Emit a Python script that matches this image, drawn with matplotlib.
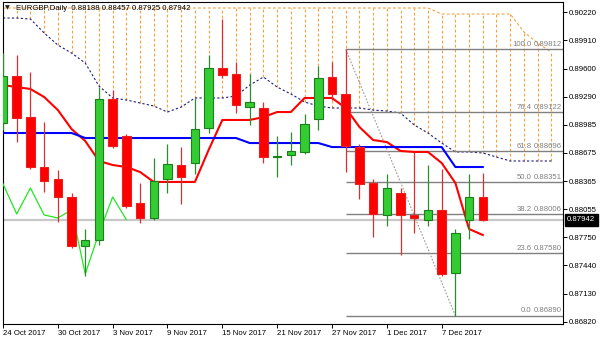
import matplotlib
matplotlib.use("Agg")
import matplotlib.pyplot as plt

plt.rcParams['font.family'] = ['Liberation Sans', 'DejaVu Sans']

# x axis labels (every 4th daily bar)
date_labels = ["24 Oct 2017", "30 Oct 2017", "3 Nov 2017", "9 Nov 2017", "15 Nov 2017",
               "21 Nov 2017", "27 Nov 2017", "1 Dec 2017", "7 Dec 2017"]
date_pos = [0, 4, 8, 12, 16, 20, 24, 28, 32]

# daily candles, EURGBP
opens = [0.89003, 0.89518, 0.89068, 0.88520, 0.88388, 0.88191, 0.87654, 0.87719, 0.89266, 0.88860,
         0.88125, 0.87961, 0.88388, 0.88542, 0.88564, 0.88948, 0.89606, 0.89540, 0.89178, 0.89167,
         0.88630, 0.88652, 0.88685, 0.89047, 0.89507, 0.89321, 0.88739, 0.88345, 0.87994, 0.88235,
         0.87994, 0.87939, 0.88049, 0.87358, 0.87939, 0.88188]
highs = [0.89770, 0.89748, 0.89562, 0.89014, 0.88487, 0.88235, 0.87840, 0.89397, 0.89365, 0.88882,
         0.88345, 0.88619, 0.88772, 0.88739, 0.89277, 0.89748, 0.90143, 0.89672, 0.89540, 0.89233,
         0.88860, 0.88904, 0.89101, 0.89628, 0.89672, 0.89812, 0.88772, 0.88388, 0.88443, 0.88290,
         0.88685, 0.88542, 0.88498, 0.87840, 0.88443, 0.88457]
lows = [0.88926, 0.88794, 0.88498, 0.88246, 0.87917, 0.87632, 0.87325, 0.87665, 0.88728, 0.88070,
        0.87906, 0.87939, 0.88235, 0.88114, 0.88443, 0.88893, 0.89496, 0.89112, 0.88981, 0.88564,
        0.88410, 0.88542, 0.88663, 0.88926, 0.89255, 0.88465, 0.88169, 0.87752, 0.87873, 0.87555,
        0.87796, 0.87873, 0.87325, 0.86890, 0.87730, 0.87925]
closes = [0.89518, 0.89057, 0.88520, 0.88367, 0.88191, 0.87654, 0.87719, 0.89266, 0.88750, 0.88092,
          0.87961, 0.88367, 0.88553, 0.88410, 0.88937, 0.89606, 0.89529, 0.89200, 0.89233, 0.88630,
          0.88641, 0.88696, 0.88992, 0.89496, 0.89321, 0.88750, 0.88334, 0.88005, 0.88290, 0.87994,
          0.87961, 0.88049, 0.87347, 0.87796, 0.88191, 0.87942]

# ichimoku lines
tenkan = [0.89419, 0.89397, 0.89376, 0.89288, 0.89145, 0.88937, 0.88805, 0.88586, 0.88542, 0.88520,
          0.88465, 0.88356, 0.88356, 0.88356, 0.88356, 0.88707, 0.89036, 0.89036, 0.89036, 0.89068,
          0.89123, 0.89123, 0.89277, 0.89277, 0.89277, 0.89167, 0.88959, 0.88816, 0.88794, 0.88696,
          0.88685, 0.88685, 0.88564, 0.88345, 0.87840, 0.87774]
kijun = [0.88893, 0.88893, 0.88893, 0.88893, 0.88893, 0.88893, 0.88838, 0.88838, 0.88838, 0.88838,
         0.88838, 0.88838, 0.88838, 0.88838, 0.88838, 0.88838, 0.88838, 0.88838, 0.88783, 0.88783,
         0.88783, 0.88783, 0.88783, 0.88783, 0.88739, 0.88739, 0.88739, 0.88739, 0.88739, 0.88739,
         0.88739, 0.88739, 0.88739, 0.88520, 0.88520, 0.88520]
span_a = [0.90154, 0.90154, 0.90143, 0.89990, 0.89858, 0.89770, 0.89661, 0.89408, 0.89277, 0.89255,
          0.89222, 0.89189, 0.89123, 0.89178, 0.89277, 0.89277, 0.89277, 0.89299, 0.89419, 0.89507,
          0.89397, 0.89321, 0.89233, 0.89189, 0.89167, 0.89167, 0.89167, 0.89145, 0.89134, 0.89112,
          0.88981, 0.88893, 0.88783, 0.88685, 0.88685, 0.88674, 0.88630, 0.88586, 0.88586, 0.88586,
          0.88586]
span_b = [0.90264, 0.90264, 0.90264, 0.90264, 0.90264, 0.90264, 0.90264, 0.90264, 0.90264, 0.90264,
          0.90264, 0.90264, 0.90264, 0.90264, 0.90264, 0.90264, 0.90264, 0.90264, 0.90264, 0.90264,
          0.90264, 0.90264, 0.90264, 0.90264, 0.90264, 0.90264, 0.90264, 0.90264, 0.90264, 0.90264,
          0.90264, 0.90264, 0.90198, 0.90198, 0.90198, 0.90198, 0.90198, 0.90198, 0.90001, 0.89880,
          0.89781]

# fibonacci retracement
fib_levels = [0.0, 23.6, 38.2, 50.0, 61.8, 76.4, 100.0]
fib_prices = [0.86890, 0.87580, 0.88006, 0.88351, 0.88696, 0.89122, 0.89812]
fib_from, fib_to = 25, 33

price_ticks = [0.90220, 0.89910, 0.89600, 0.89290, 0.88985, 0.88675, 0.88365,
               0.88055, 0.87750, 0.87440, 0.87130, 0.86820]

FS = 5.6
fig = plt.figure(figsize=(6, 3.43), dpi=100)
ax = fig.add_axes([0.005, 0.0554, 0.9333, 0.9388])
x_max = 40.85
ax.set_xlim(0, x_max)
ax.set_ylim(0.86798, 0.90330)

# cloud
cloud_x = list(range(len(span_b)))
orange = '#F7A03A'
ax.vlines(cloud_x, span_a, span_b, colors=orange, linestyles=(0, (2.5, 2)), lw=0.8, zorder=1)
ax.plot(cloud_x, span_b, color=orange, ls=(0, (2.5, 2)), lw=0.8, zorder=1)
ax.plot(cloud_x, span_a, color='#1a1a80', ls=(0, (2, 2)), lw=0.8, zorder=2)

# last price line
ax.axhline(closes[-1], color='#C8C8C8', lw=1.6, zorder=1.5)

# fib
ax.hlines(fib_prices, fib_from, x_max, color='#808080', lw=1.0, zorder=2.5)
ax.plot([fib_from, fib_to], [fib_prices[-1], fib_prices[0]], color='#999999',
        ls=(0, (1.5, 1.5)), lw=0.8, zorder=2.5)
for lv, p in zip(fib_levels, fib_prices):
    ax.annotate(f"{lv:.1f}", (38.55, p), xytext=(0, 0.8), textcoords='offset points',
                ha='right', va='bottom', fontsize=FS, color='#808080', zorder=3)
    ax.annotate(f"{p:.5f}", (40.75, p), xytext=(0, 0.8), textcoords='offset points',
                ha='right', va='bottom', fontsize=FS, color='#808080', zorder=3)

# chikou span = closes shifted back 26 bars
ax.plot(range(len(closes) - 26), closes[26:], color='#22E622', lw=0.9, zorder=3)

idx = list(range(len(closes)))
ax.plot(idx, tenkan, color='#FF0000', lw=1.5, zorder=4)
ax.plot(idx, kijun, color='#0000FF', lw=1.5, zorder=4)

# candles
for i in idx:
    o, h, l, c = opens[i], highs[i], lows[i], closes[i]
    if c >= o:
        face, edge, wick = '#33CC33', '#1B7F1B', '#2E8B2E'
    else:
        face, edge, wick = '#FF0000', '#E82020', '#D83030'
    ax.vlines(i, l, h, color=wick, lw=0.9, zorder=5)
    ax.bar(i, abs(c - o), bottom=min(o, c), width=0.62, color=face, edgecolor=edge,
           lw=0.8, zorder=6)

# axes styling
for s in ax.spines.values():
    s.set_color('black')
    s.set_linewidth(0.8)
ax.yaxis.tick_right()
ax.set_yticks(price_ticks, [f"{p:.5f}" for p in price_ticks])
ax.tick_params(axis='y', direction='out', length=3, width=0.7, pad=1.2, labelsize=FS)
ax.set_xticks(date_pos, date_labels)
ax.tick_params(axis='x', direction='out', length=3, width=0.7, pad=1.5, labelsize=FS)
for t in ax.get_xticklabels():
    t.set_ha('left')

# current price box
ax.text(1.0075, closes[-1], f"{closes[-1]:.5f}", transform=ax.get_yaxis_transform(),
        ha='left', va='center', fontsize=FS, color='white',
        bbox=dict(facecolor='black', edgecolor='black', boxstyle='square,pad=0.3'))

# header
ax.text(0.004, 0.981, '\u25bc', transform=ax.transAxes, ha='left', va='center',
        fontsize=4.5, color='#202020', family=['DejaVu Sans'])
ax.text(0.0232, 0.981,
        f"EURGBP,Daily  {opens[-1]:.5f} {highs[-1]:.5f} {lows[-1]:.5f} {closes[-1]:.5f}",
        transform=ax.transAxes, ha='left', va='center', fontsize=FS, color='black', zorder=10)

fig.savefig('out.png', dpi=100)
